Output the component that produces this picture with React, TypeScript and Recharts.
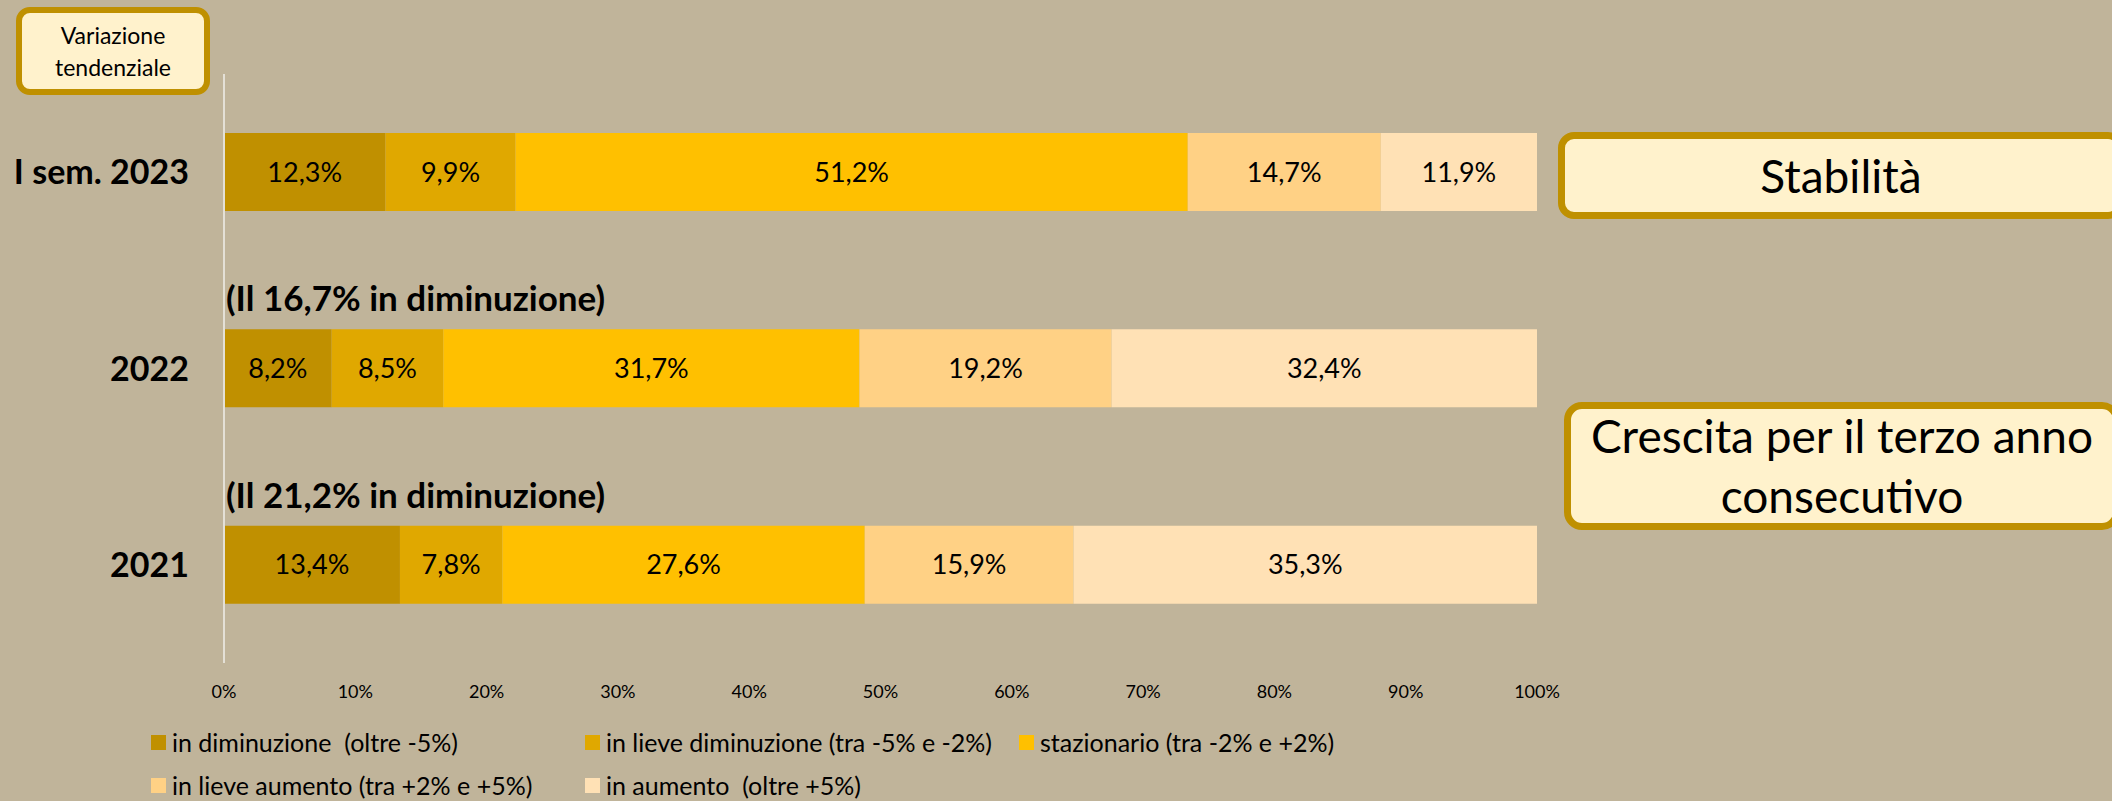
import { Bar, BarChart, LabelList, XAxis, YAxis } from 'recharts';

const periods = ['I sem. 2023', '2022', '2021'];
const notes = ['', '(Il 16,7% in diminuzione)', '(Il 21,2% in diminuzione)'];

const seriesNames = [
  'in diminuzione  (oltre -5%)',
  'in lieve diminuzione (tra -5% e -2%)',
  'stazionario (tra -2% e +2%)',
  'in lieve aumento (tra +2% e +5%)',
  'in aumento  (oltre +5%)',
];
const seriesColors = ['#c09000', '#e0a800', '#ffc000', '#ffd185', '#ffe1b5'];

const inDiminuzione = [12.3, 8.2, 13.4];
const lieveDiminuzione = [9.9, 8.5, 7.8];
const stazionario = [51.2, 31.7, 27.6];
const lieveAumento = [14.7, 19.2, 15.9];
const inAumento = [11.9, 32.4, 35.3];

const xTicks = [0, 10, 20, 30, 40, 50, 60, 70, 80, 90, 100];

const seriesValues = [inDiminuzione, lieveDiminuzione, stazionario, lieveAumento, inAumento];
const keys = ['s0', 's1', 's2', 's3', 's4'];

const chartData = periods.map((p, i) => {
  const row: any = { name: p, note: notes[i] };
  seriesValues.forEach((vals, k) => {
    row[keys[k]] = vals[i];
  });
  return row;
});

const FONT = 'Lato, "Noto Sans", sans-serif';
const BG = '#c0b49a';
const GOLD = '#bf9000';

const fmt = (v: any) => `${Number(v).toFixed(1).replace('.', ',')}%`;

const NoteLabel = (props: any) => {
  const { x, y, value } = props;
  if (!value) return null;
  return (
    <text x={x + 2} y={y - 18} fontSize={35} fontWeight={700} fill="#000" fontFamily={FONT}>
      {value}
    </text>
  );
};

export default function App() {
  return (
    <div
      style={{
        position: 'absolute',
        left: 0,
        top: 0,
        width: 2112,
        height: 801,
        background: BG,
        overflow: 'hidden',
        fontFamily: FONT,
      }}
    >
      <BarChart
        width={2112}
        height={801}
        data={chartData}
        layout="vertical"
        margin={{ top: 74, right: 575, bottom: 98, left: 0 }}
        barSize={78}
      >
        <XAxis
          type="number"
          domain={[0, 100]}
          ticks={xTicks}
          tickFormatter={(v) => `${v}%`}
          axisLine={false}
          tickLine={false}
          tickMargin={16}
          height={40}
          tick={{ fontSize: 18, fill: '#000', fontFamily: FONT }}
        />
        <YAxis
          type="category"
          dataKey="name"
          width={224}
          axisLine={{ stroke: '#e4e0d6', strokeWidth: 2 }}
          tickLine={false}
          tickSize={0}
          tickMargin={35}
          tick={{ fontSize: 34, fontWeight: 700, fill: '#000', fontFamily: FONT }}
        />
        {keys.map((k, idx) => (
          <Bar key={k} dataKey={k} stackId="a" fill={seriesColors[idx]} isAnimationActive={false}>
            <LabelList
              dataKey={k}
              position="center"
              formatter={fmt}
              style={{ fontSize: 27, fill: '#000', fontFamily: FONT }}
            />
            {idx === 0 && <LabelList dataKey="note" content={NoteLabel} />}
          </Bar>
        ))}
      </BarChart>

      {/* legend */}
      {seriesNames.map((n, i) => {
        const row = i < 3 ? 0 : 1;
        const col = i < 3 ? i : i - 3;
        return (
          <div
            key={n}
            style={{
              position: 'absolute',
              left: 151 + col * 434,
              top: 742 + row * 43 - 15,
              height: 30,
              display: 'flex',
              alignItems: 'center',
              fontSize: 25,
              whiteSpace: 'pre',
              color: '#000',
            }}
          >
            <span style={{ width: 15, height: 15, background: seriesColors[i], marginRight: 6, display: 'inline-block' }} />
            {n}
          </div>
        );
      })}

      {/* callouts */}
      <div
        style={{
          position: 'absolute',
          left: 16,
          top: 7,
          width: 194,
          height: 88,
          boxSizing: 'border-box',
          border: `6px solid ${GOLD}`,
          borderRadius: 14,
          background: '#fff2cc',
          display: 'flex',
          alignItems: 'center',
          justifyContent: 'center',
          textAlign: 'center',
          fontSize: 23,
          lineHeight: '32px',
        }}
      >
        Variazione
        <br />
        tendenziale
      </div>
      <div
        style={{
          position: 'absolute',
          left: 1558,
          top: 132,
          width: 566,
          height: 87,
          boxSizing: 'border-box',
          border: `7px solid ${GOLD}`,
          borderRadius: 16,
          background: '#fff2cc',
          display: 'flex',
          alignItems: 'center',
          justifyContent: 'center',
          fontSize: 46,
        }}
      >
        Stabilità
      </div>
      <div
        style={{
          position: 'absolute',
          left: 1564,
          top: 402,
          width: 556,
          height: 128,
          boxSizing: 'border-box',
          border: `7px solid ${GOLD}`,
          borderRadius: 18,
          background: '#fff2cc',
          display: 'flex',
          alignItems: 'center',
          justifyContent: 'center',
          textAlign: 'center',
          fontSize: 46,
          lineHeight: '60px',
        }}
      >
        Crescita per il terzo anno
        <br />
        consecutivo
      </div>
    </div>
  );
}
